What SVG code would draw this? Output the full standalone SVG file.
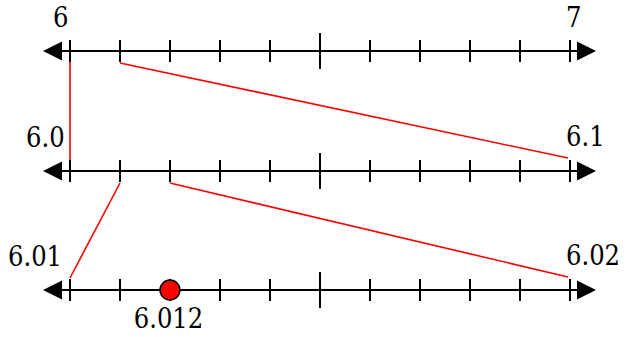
<svg xmlns="http://www.w3.org/2000/svg" width="631" height="337" viewBox="0 0 631 337">
<defs>
<style>
.axis{stroke:#000;stroke-width:2;fill:none}
.tick{stroke:#000;stroke-width:2}
.head{fill:#000}
.zoom{stroke:#f00;stroke-width:1.6;fill:none}
text{font-family:'DejaVu Serif Condensed','Liberation Serif',serif;font-size:27px;fill:#000}
</style>
<g id="ticks">
<path class="tick" d="M70,-11V11M120,-11V11M170,-11V11M220,-11V11M270,-11V11M320,-18V18M370,-11V11M420,-11V11M470,-11V11M520,-11V11M570,-11V11"/>
</g>
</defs>
<rect width="631" height="337" fill="#fff"/>
<g id="line1">
<line class="axis" x1="50" y1="51" x2="590" y2="51"/>
<polygon class="head" points="43,51 62,41.5 62,60.5"/>
<polygon class="head" points="596,51 577,41.5 577,60.5"/>
<use href="#ticks" y="51"/>
<text x="53" y="27">6</text>
<text x="566" y="27">7</text>
</g>
<g id="line2">
<line class="axis" x1="50" y1="171" x2="590" y2="171"/>
<polygon class="head" points="43,171 62,161.5 62,180.5"/>
<polygon class="head" points="596,171 577,161.5 577,180.5"/>
<use href="#ticks" y="171"/>
<text x="26" y="147">6.0</text>
<text x="566" y="146">6.1</text>
</g>
<g id="line3">
<line class="axis" x1="50" y1="290" x2="590" y2="290"/>
<polygon class="head" points="43,290 62,280.5 62,299.5"/>
<polygon class="head" points="596,290 577,280.5 577,299.5"/>
<use href="#ticks" y="290"/>
<text x="8" y="266">6.01</text>
<text x="566" y="265">6.02</text>
</g>
<g id="connectors">
<line class="zoom" x1="70" y1="62" x2="70" y2="160"/>
<line class="zoom" x1="120" y1="63" x2="568" y2="158"/>
<line class="zoom" x1="120" y1="183" x2="70" y2="278"/>
<line class="zoom" x1="170" y1="183" x2="568" y2="277"/>
</g>
<g id="point">
<circle cx="170" cy="290" r="10" fill="#f00" stroke="#000" stroke-width="1.5"/>
<text x="168.5" y="328" text-anchor="middle">6.012</text>
</g>
</svg>
